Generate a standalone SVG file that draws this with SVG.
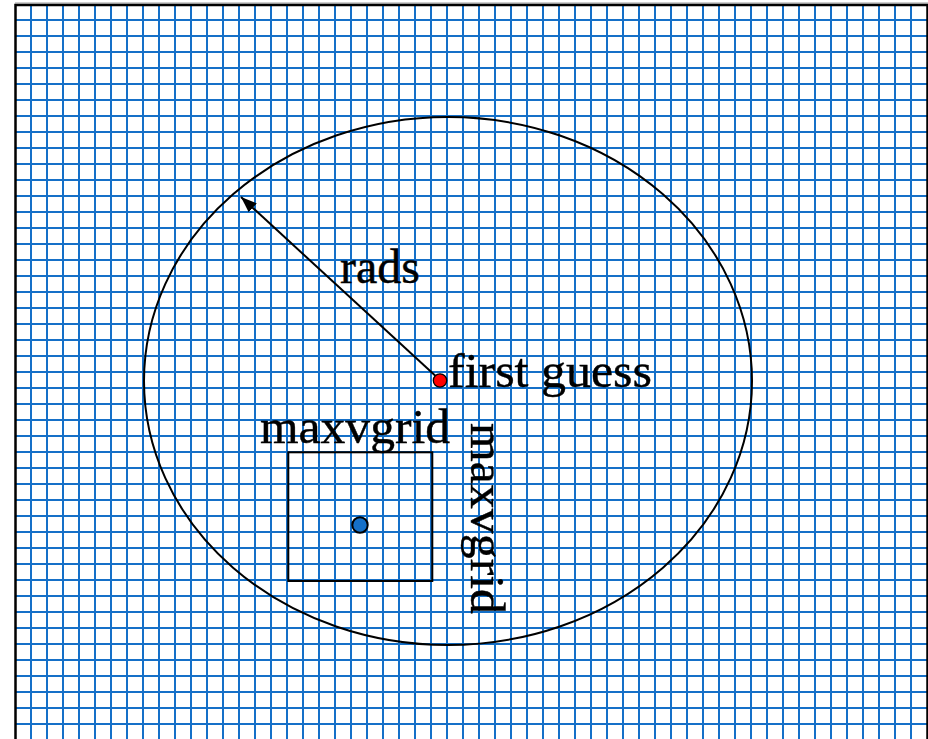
<svg xmlns="http://www.w3.org/2000/svg" width="928" height="739" viewBox="0 0 928 739">
<style>
.grid{stroke:#1570c8;stroke-width:2;fill:none}
.ln{stroke:#000;stroke-width:2;fill:none}
.lbl{font-family:"Liberation Serif","Times New Roman",serif;font-size:48px;fill:#000;stroke:#000;stroke-width:0.4}
</style>
<defs>
<marker id="ah2" viewBox="0 0 16 12" refX="16" refY="6" markerWidth="16" markerHeight="12" markerUnits="userSpaceOnUse" orient="auto">
<path d="M0,0 L16,6 L0,12 z" fill="#000"/>
</marker>
</defs>
<rect width="928" height="739" fill="#fff"/>
<g id="grid">
<path class="grid" d="M31 5V739M47 5V739M63 5V739M79 5V739M95 5V739M111 5V739M127 5V739M143 5V739M159 5V739M175 5V739M191 5V739M207 5V739M223 5V739M239 5V739M255 5V739M271 5V739M287 5V739M303 5V739M319 5V739M335 5V739M351 5V739M367 5V739M383 5V739M399 5V739M415 5V739M431 5V739M447 5V739M463 5V739M479 5V739M495 5V739M511 5V739M527 5V739M543 5V739M559 5V739M575 5V739M591 5V739M607 5V739M623 5V739M639 5V739M655 5V739M671 5V739M687 5V739M703 5V739M719 5V739M735 5V739M751 5V739M767 5V739M783 5V739M799 5V739M815 5V739M831 5V739M847 5V739M863 5V739M879 5V739M895 5V739M911 5V739"/>
<path class="grid" d="M16 20H927M16 36H927M16 52H927M16 68H927M16 84H927M16 100H927M16 116H927M16 132H927M16 148H927M16 164H927M16 180H927M16 196H927M16 212H927M16 228H927M16 244H927M16 260H927M16 276H927M16 292H927M16 308H927M16 324H927M16 340H927M16 356H927M16 372H927M16 388H927M16 404H927M16 420H927M16 436H927M16 452H927M16 468H927M16 484H927M16 500H927M16 516H927M16 532H927M16 548H927M16 564H927M16 580H927M16 596H927M16 612H927M16 628H927M16 644H927M16 660H927M16 676H927M16 692H927M16 708H927M16 724H927"/>
</g>
<g id="frame">
<path d="M15 3H928" stroke="#bbb" stroke-width="1.5" fill="none"/>
<path d="M15.5 739V5H927.5V739" stroke="#000" stroke-width="2.5" fill="none"/>
</g>
<g id="circle">
<ellipse class="ln" cx="448" cy="381" rx="304" ry="264"/>
</g>
<g id="connectors">
<line class="ln" x1="440" y1="380" x2="241" y2="197" marker-end="url(#ah2)"/>
</g>
<g id="rads">
<text class="lbl" x="340" y="283" textLength="80" lengthAdjust="spacingAndGlyphs">rads</text>
</g>
<g id="first-guess">
<circle cx="440" cy="380.5" r="6.7" fill="#f00" stroke="#000" stroke-width="1.3"/>
<text class="lbl" x="448" y="387" textLength="204" lengthAdjust="spacingAndGlyphs">first guess</text>
</g>
<g id="box">
<rect class="ln" x="288.3" y="452.3" width="144" height="128.7"/>
<circle cx="360" cy="525" r="7.7" fill="#1570c8" stroke="#000" stroke-width="2"/>
<text class="lbl" x="260" y="443" textLength="190" lengthAdjust="spacingAndGlyphs">maxvgrid</text>
<text class="lbl" transform="translate(471 423) rotate(90)" x="0" y="0" textLength="191" lengthAdjust="spacingAndGlyphs">maxvgrid</text>
</g>
</svg>
